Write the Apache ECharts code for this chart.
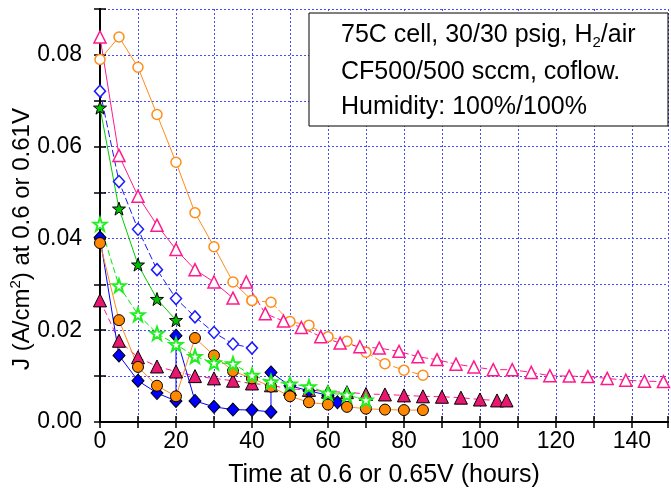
<!DOCTYPE html>
<html>
<head>
<meta charset="utf-8">
<script src="https://cdn.jsdelivr.net/npm/echarts@6/dist/echarts.min.js"></script>
<style>
  html, body { margin: 0; padding: 0; background: #fff; }
  #chart { width: 671px; height: 493px; }
</style>
</head>
<body>
<div id="chart"></div>
<script>
// open orange circles
const openOrangeAX = [0, 5, 10, 15, 20, 25, 30, 35, 40];
const openOrangeAY = [0.079, 0.0839, 0.0773, 0.067, 0.0566, 0.0456, 0.0382, 0.0305, 0.0265];
const openOrangeBX = [40, 45, 50, 55, 60, 65, 70, 75, 80, 85];
const openOrangeBY = [0.0265, 0.0261, 0.0219, 0.0211, 0.0186, 0.0176, 0.0152, 0.0127, 0.0113, 0.0102];
// open pink triangles
const openPinkAX = [0, 5, 10, 15, 20, 25, 30, 35];
const openPinkAY = [0.0839, 0.0581, 0.0492, 0.0429, 0.0376, 0.0332, 0.0305, 0.027];
const openPinkBX = [38.5, 43.5, 48.3, 53, 58.1, 63.2, 68.4, 73.5, 78.7, 83.7, 88.7, 93.7, 98.4,
  103.5, 108.5, 113.5, 118.4, 123.5, 128.4, 133.5, 138.4, 143.3, 148.3];
const openPinkBY = [0.0305, 0.0236, 0.022, 0.0206, 0.0186, 0.0172, 0.0164, 0.0161, 0.0154, 0.0142, 0.0136, 0.0126, 0.012,
  0.0114, 0.0114, 0.0108, 0.0101, 0.01, 0.0099, 0.0095, 0.0091, 0.0089, 0.0088];
// open blue diamonds
const openBlueX = [0, 5, 10, 15, 20, 25, 30, 35, 40];
const openBlueY = [0.0721, 0.0524, 0.042, 0.0332, 0.0269, 0.0229, 0.0195, 0.017, 0.0161];
// filled dark green stars
const darkStarX = [0, 5, 10, 15, 20];
const darkStarY = [0.0685, 0.0465, 0.0343, 0.0268, 0.0222];
// filled pink triangles
const pinkFillX = [0, 5, 10, 15, 20, 25, 30, 35, 40, 45, 50, 55, 60, 65, 70, 75, 80, 85, 90, 95, 100, 104.5, 107];
const pinkFillY = [0.0265, 0.0177, 0.0141, 0.0121, 0.011, 0.01, 0.0095, 0.009, 0.0084, 0.008, 0.0072, 0.007, 0.0066,
  0.0065, 0.0061, 0.006, 0.0058, 0.0056, 0.0055, 0.0053, 0.0049, 0.0047, 0.0047];
// filled blue diamonds
const blueFillX = [0, 5, 10, 15, 20, 20, 25, 30, 35, 40, 45, 45, 50, 55, 60, 62.5];
const blueFillY = [0.0402, 0.0145, 0.009, 0.0063, 0.0046, 0.0188, 0.0046, 0.0033, 0.0027, 0.0026, 0.0022, 0.0108,
  0.0079, 0.0068, 0.0058, 0.0043];
// filled orange circles
const orangeFillX = [0, 5, 10, 15, 20, 25, 30, 35, 40, 45, 50, 55, 60, 65, 70, 75, 80, 85];
const orangeFillY = [0.039, 0.0222, 0.012, 0.0079, 0.0056, 0.0183, 0.0145, 0.0111, 0.0095, 0.0077, 0.0056, 0.0043,
  0.0038, 0.0033, 0.0029, 0.0027, 0.0026, 0.0026];
// open light green stars
const openStarX = [0, 5, 10, 15, 20, 25, 30, 35, 40, 45, 50, 55, 60, 65, 70];
const openStarY = [0.0431, 0.0297, 0.0234, 0.0193, 0.0169, 0.0143, 0.0129, 0.0127, 0.0102, 0.0088, 0.0083, 0.0077,
  0.0063, 0.0059, 0.0048];

const FONT = 'Liberation Sans, Arial, sans-serif';
const STAR = 'path://M0,-10L2.35,-3.24L9.51,-3.09L3.8,1.24L5.88,8.09L0,4L-5.88,8.09L-3.8,1.24L-9.51,-3.09L-2.35,-3.24Z';
const gridLine = { show: true, lineStyle: { color: '#4a4aff', width: 1, type: [2, 2] } };

function pairs(xs, ys) {
  return xs.map((x, i) => [x, ys[i]]);
}

function makeSeries(xs, ys, o) {
  return {
    type: 'line',
    data: pairs(xs, ys),
    symbol: o.symbol,
    symbolSize: o.size,
    showAllSymbol: true,
    clip: true,
    lineStyle: { color: o.line, width: 1, type: o.dash || 'solid' },
    itemStyle: { color: o.fill, borderColor: o.border, borderWidth: o.bw || 1 },
    emphasis: { disabled: true },
    animation: false
  };
}

const chart = echarts.init(document.getElementById('chart'));

const frameAxis = {
  type: 'value',
  axisLine: { show: true, lineStyle: { color: '#000', width: 2 } },
  axisTick: { show: true, inside: true, length: 6, lineStyle: { color: '#000', width: 1.5 } },
  axisLabel: { show: false },
  splitLine: { show: false }
};

chart.setOption({
  animation: false,
  backgroundColor: '#fff',
  textStyle: { fontFamily: FONT },
  grid: { left: 100, top: 9, width: 571, height: 420 },
  xAxis: [
    Object.assign({}, frameAxis, {
      min: 0, max: 149.5, interval: 10, position: 'bottom',
      axisLabel: {
        show: true, fontSize: 23, color: '#000', fontFamily: FONT, margin: 8,
        formatter: v => (Math.round(v) % 20 === 0 && Math.abs(v - Math.round(v)) < 1e-6) ? String(Math.round(v)) : ''
      },
      splitLine: gridLine,
      name: 'Time at 0.6 or 0.65V (hours)',
      nameLocation: 'middle',
      nameGap: 41,
      nameTextStyle: { fontSize: 25, color: '#000', fontFamily: FONT }
    }),
    Object.assign({}, frameAxis, { min: 0, max: 149.5, interval: 10, position: 'top' })
  ],
  yAxis: [
    Object.assign({}, frameAxis, {
      min: 0, max: 0.09, interval: 0.01, position: 'left',
      axisLabel: {
        show: true, fontSize: 23, color: '#000', fontFamily: FONT, margin: 18,
        formatter: v => (Math.round(v * 100) % 2 === 0) ? v.toFixed(2) : ''
      },
      splitLine: gridLine
    }),
    Object.assign({}, frameAxis, { min: 0, max: 0.09, interval: 0.01, position: 'right' })
  ],
  graphic: [
    {
      type: 'text', x: 22, y: 239,
      rotation: Math.PI / 2,
      style: {
        x: 0, y: 0,
        text: '{a|J (A/cm}{s|2}{a|) at 0.6 or 0.61V}',
        align: 'center', verticalAlign: 'middle',
        rich: {
          a: { fontSize: 24, fontFamily: FONT, fill: '#000', lineHeight: 28 },
          s: { fontSize: 15, fontFamily: FONT, fill: '#000', lineHeight: 15, verticalAlign: 'top' }
        }
      }
    },
    {
      type: 'rect', z: 100,
      shape: { x: 309, y: 13, width: 359, height: 113 },
      style: { fill: '#fff', stroke: '#000', lineWidth: 1 }
    },
    {
      type: 'text', z: 101, x: 341, y: 35,
      style: {
        text: '{a|75C cell, 30/30 psig, H}{b|2}{a|/air}',
        verticalAlign: 'middle',
        rich: {
          a: { fontSize: 25, fontFamily: FONT, fill: '#000', lineHeight: 30 },
          b: { fontSize: 15, fontFamily: FONT, fill: '#000', lineHeight: 15, verticalAlign: 'bottom' }
        }
      }
    },
    {
      type: 'text', z: 101, x: 341, y: 72,
      style: { text: 'CF500/500 sccm, coflow.', fontSize: 25, fontFamily: FONT, fill: '#000', verticalAlign: 'middle' }
    },
    {
      type: 'text', z: 101, x: 341, y: 107,
      style: { text: 'Humidity: 100%/100%', fontSize: 25, fontFamily: FONT, fill: '#000', verticalAlign: 'middle' }
    }
  ],
  series: [
    makeSeries(openOrangeAX, openOrangeAY, { symbol: 'circle', size: 10, line: '#ff8c1a', fill: '#fff', border: '#ff8c1a', bw: 1.5 }),
    makeSeries(openOrangeBX, openOrangeBY, { symbol: 'circle', size: 10, line: '#ff8c1a', fill: '#fff', border: '#ff8c1a', bw: 1.5, dash: [7, 3] }),
    makeSeries(openPinkAX, openPinkAY, { symbol: 'triangle', size: 12, line: '#ff1a8c', fill: '#fff', border: '#ff1a8c', bw: 1.5 }),
    makeSeries(openPinkBX, openPinkBY, { symbol: 'triangle', size: 12, line: '#ff1a8c', fill: '#fff', border: '#ff1a8c', bw: 1.5, dash: [7, 3] }),
    makeSeries(openBlueX, openBlueY, { symbol: 'diamond', size: [11, 12], line: '#1a1aff', fill: '#fff', border: '#1a1aff', bw: 1.5, dash: [7, 3] }),
    makeSeries(darkStarX, darkStarY, { symbol: STAR, size: 13, line: '#00cc00', fill: '#00c000', border: '#000' }),
    makeSeries(pinkFillX, pinkFillY, { symbol: 'triangle', size: 13, line: '#ff1a8c', fill: '#e8176f', border: '#000', dash: [6, 4] }),
    makeSeries(blueFillX, blueFillY, { symbol: 'diamond', size: [12, 13], line: '#0000ff', fill: '#0000ff', border: '#000' }),
    makeSeries(orangeFillX, orangeFillY, { symbol: 'circle', size: 11, line: '#ff8c1a', fill: '#ff8800', border: '#000' }),
    makeSeries(openStarX, openStarY, { symbol: STAR, size: 13, line: '#00ee00', fill: '#fff', border: '#22ee22', bw: 2, dash: [6, 3] })
  ]
});
</script>
</body>
</html>
